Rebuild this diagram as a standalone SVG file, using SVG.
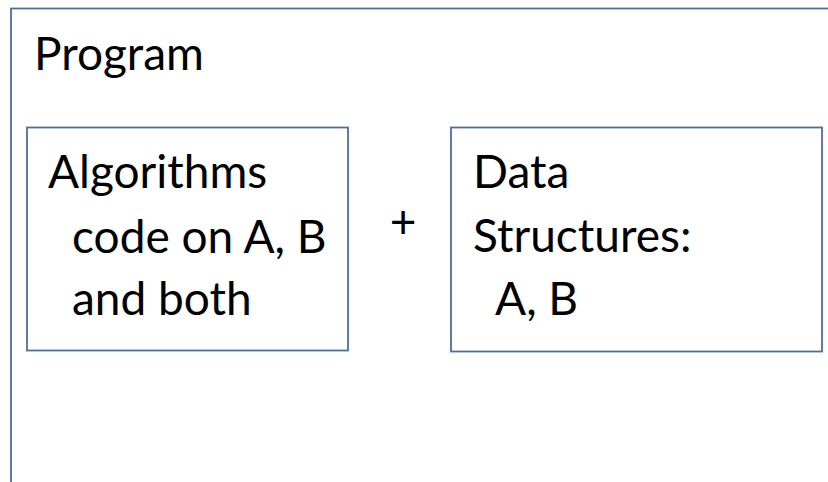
<svg xmlns="http://www.w3.org/2000/svg" width="828" height="482" viewBox="0 0 828 482">
<style>
.box{fill:#ffffff;stroke:#4a6f9f;stroke-width:1.8}
.t{font-family:Lato,"Open Sans","Liberation Sans",sans-serif;font-size:46px;fill:#000000}
</style>
<rect x="0" y="0" width="828" height="482" fill="#ffffff"/>
<g id="program">
<rect class="box" x="11" y="8.5" width="840" height="500"/>
<text class="t" x="34" y="70">Program</text>
</g>
<g id="algorithms">
<rect class="box" x="27" y="127.5" width="321" height="223"/>
<text class="t" x="48" y="188">Algorithms</text>
<text class="t" x="72" y="253">code on A, B</text>
<text class="t" x="72" y="315">and both</text>
</g>
<g id="plus">
<text class="t" x="403" y="238" text-anchor="middle">+</text>
</g>
<g id="datastructures">
<rect class="box" x="451" y="127.5" width="371" height="224"/>
<text class="t" x="473" y="188">Data</text>
<text class="t" x="473" y="252">Structures:</text>
<text class="t" x="495" y="315">A, B</text>
</g>
<g id="connectors"></g>
</svg>
